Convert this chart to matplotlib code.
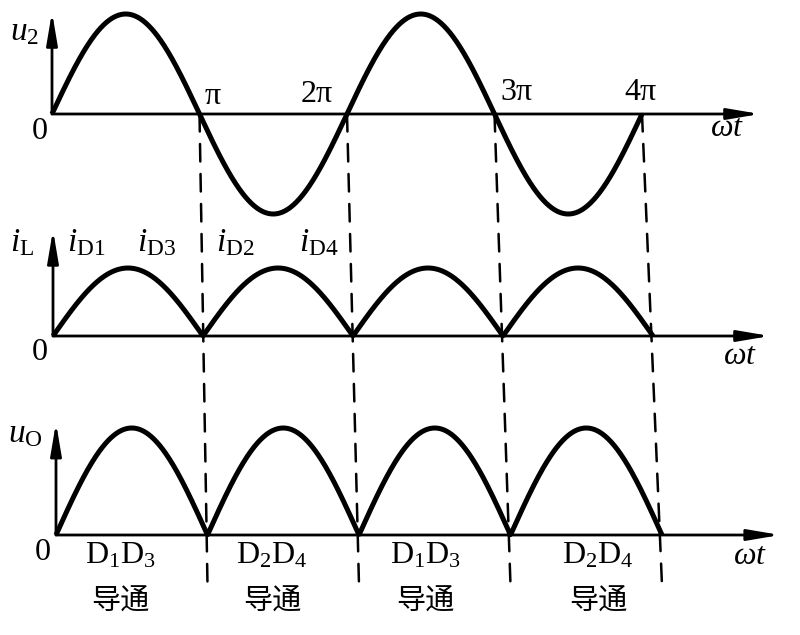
import numpy as np
import matplotlib.pyplot as plt
from matplotlib.patches import ConnectionPatch

plt.rcParams['mathtext.fontset'] = 'custom'
plt.rcParams['mathtext.rm'] = 'Liberation Serif'
plt.rcParams['mathtext.it'] = 'Liberation Serif:italic'
plt.rcParams['mathtext.bf'] = 'Liberation Serif:bold'
plt.rcParams['font.family'] = ['Liberation Serif', 'Noto Sans CJK SC', 'DejaVu Sans']

W, H = 800, 635

# waveform data, ωt in units of π
n_half_cycles = 4
crossings = [1, 2, 3, 4]
pi_labels = ['π', '2π', '3π', '4π']
u2_peak = 1.0
il_peak = 1.0
uo_peak = 1.0

current_labels = [r'$i_{\mathrm{D1}}$', r'$i_{\mathrm{D3}}$', r'$i_{\mathrm{D2}}$', r'$i_{\mathrm{D4}}$']
diode_labels = [r'$\mathrm{D_1D_3}$', r'$\mathrm{D_2D_4}$', r'$\mathrm{D_1D_3}$', r'$\mathrm{D_2D_4}$']
conduct_label = '导通'

fig = plt.figure(figsize=(W / 100, H / 100), dpi=100)


def panel(x0, px_pi, y0, px_unit, top, bottom):
    # axes spanning full width; x0/y0 are the pixel origin, px_* the scales
    ax = fig.add_axes([0, 1 - bottom / H, 1, (bottom - top) / H])
    ax.set_xlim(-x0 / px_pi * np.pi, (W - x0) / px_pi * np.pi)
    ax.set_ylim((y0 - bottom) / px_unit, (y0 - top) / px_unit)
    ax.axis('off')
    return ax


def axes_arrows(ax, x_tip, y_tip):
    style = dict(arrowstyle='-|>,head_length=1.3,head_width=0.22', color='black',
                 lw=2, mutation_scale=15, shrinkA=0, shrinkB=0)
    ax.annotate('', xy=(x_tip * np.pi, 0), xytext=(0, 0), arrowprops=style)
    ax.annotate('', xy=(0, y_tip), xytext=(0, 0), arrowprops=style)


def ptext(px, py, s, size, **kw):
    fig.text(px / W, 1 - py / H, s, fontsize=size, ha='center', va='center', **kw)


t = np.linspace(0, n_half_cycles * np.pi, 800)

ax1 = panel(52, 147.5, 114, 100, 0, 230)
ax2 = panel(53, 150, 336, 68, 230, 400)
ax3 = panel(56, 151.5, 535, 107, 400, 635)

axes_arrows(ax1, 4.8, 1.02)
axes_arrows(ax2, 4.78, 1.56)
axes_arrows(ax3, 4.78, 1.05)

ax1.plot(t, u2_peak * np.sin(t), color='black', lw=3.6, solid_capstyle='butt')
ax2.plot(t, il_peak * np.abs(np.sin(t)), color='black', lw=3.6, solid_capstyle='butt')
ax3.plot(t, uo_peak * np.abs(np.sin(t)), color='black', lw=3.6, solid_capstyle='butt')

# dashed guides from the u2 zero crossings down through the lower panels
for k in crossings:
    con = ConnectionPatch(xyA=(k * np.pi, 0), coordsA=ax1.transData,
                          xyB=(k * np.pi, -0.47), coordsB=ax3.transData,
                          color='black', lw=1.8, linestyle=(0, (7, 5)))
    fig.add_artist(con)

# labels
for s, (px, py) in zip(pi_labels, [(213, 96), (317, 94), (517, 93), (640, 92)]):
    ptext(px, py, s, 23)

for px, py in [(40, 132), (40, 352), (43, 553)]:
    ptext(px, py, '0', 23)

for px, py in [(727, 129), (740, 357), (750, 557)]:
    ptext(px, py, r'$\omega t$', 23)

ptext(25, 32, r'$u_2$', 24)
ptext(22, 243, r'$i_{\mathrm{L}}$', 24)
ptext(25, 434, r'$u_{\mathrm{O}}$', 24)

for s, px in zip(current_labels, [86, 156, 235, 319]):
    ptext(px, 243, s, 24)

for s, px in zip(diode_labels, [120, 272, 425, 598]):
    ptext(px, 556, s, 23)
    ptext(px, 602, conduct_label, 21, family=['Noto Sans CJK SC', 'DejaVu Sans'])

fig.savefig('out.png', dpi=100, facecolor='white')
